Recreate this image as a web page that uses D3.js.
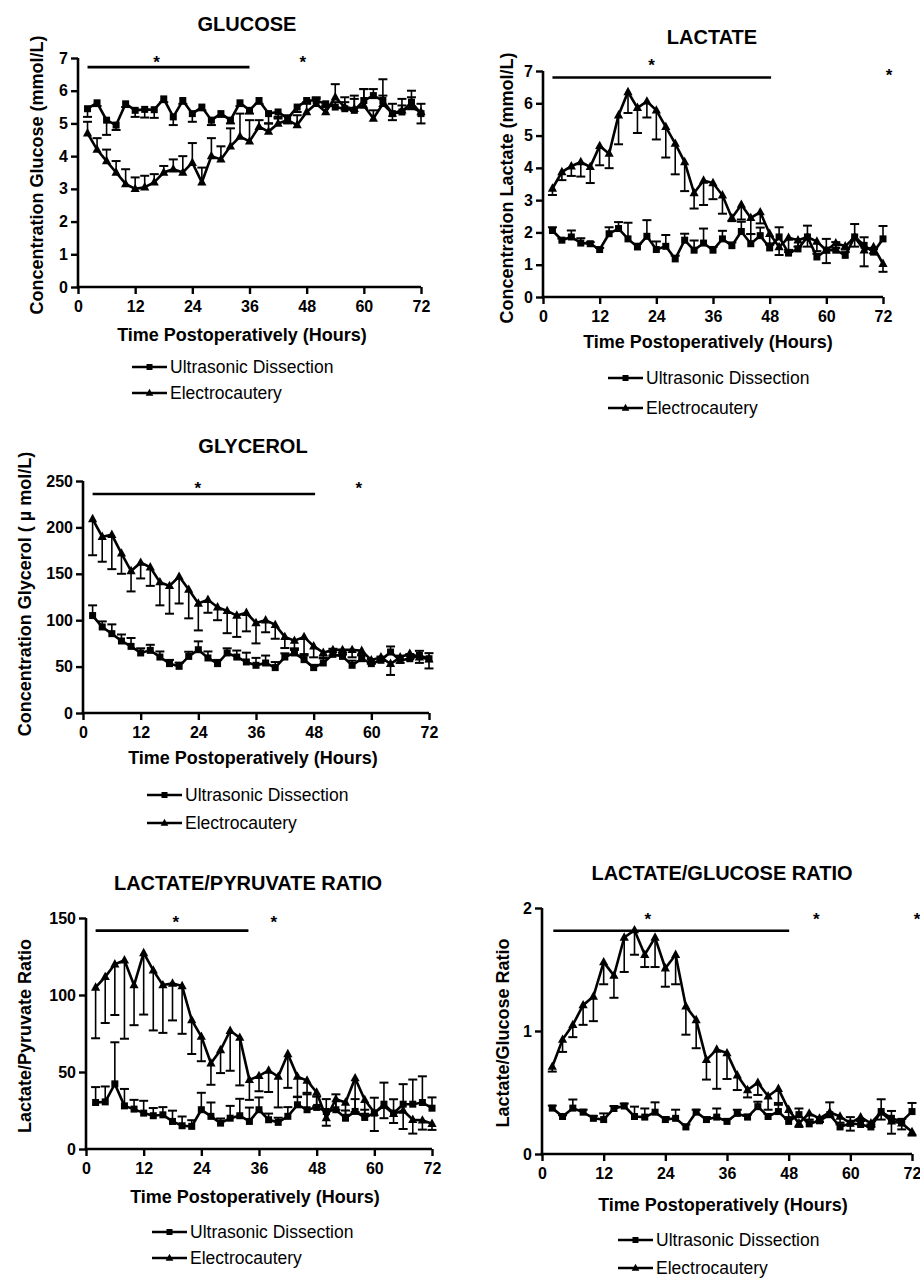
<!DOCTYPE html>
<html>
<head>
<meta charset="utf-8">
<script src="https://cdn.jsdelivr.net/npm/d3@7"></script>
<style>
  body { margin: 0; background: #fff; }
  svg { display: block; font-family: "Liberation Sans", Arial, sans-serif; }
</style>
</head>
<body>
<svg id="chart" width="920" height="1278"></svg>
<script>
// sampling times (hours after surgery)
const hours = [2, 4, 6, 8, 10, 12, 14, 16, 18, 20, 22, 24, 26, 28, 30, 32, 34, 36,
  38, 40, 42, 44, 46, 48, 50, 52, 54, 56, 58, 60, 62, 64, 66, 68, 70, 72]
const hourTicks = [0, 12, 24, 36, 48, 60, 72]
const seriesNames = ['Ultrasonic Dissection', 'Electrocautery']

// error values are signed: + means the bar is drawn upward, - downward
const glucoseUS = [5.45, 5.63, 5.1, 4.95, 5.6, 5.4, 5.43, 5.42, 5.75, 5.2, 5.7, 5.3, 5.5, 5.1, 5.3, 5.1, 5.63, 5.4,
  5.7, 5.3, 5.35, 5.15, 5.5, 5.7, 5.7, 5.6, 5.5, 5.45, 5.4, 5.7, 5.85, 5.7, 5.3, 5.35, 5.65, 5.3]
const glucoseUSErr = [-0.25, -0.1, -0.45, -0.15, -0.1, -0.2, -0.25, -0.25, -0.1, -0.25, -0.1, -0.25, -0.1, -0.15, -0.1, -0.1, -0.1, -0.1,
  -0.1, -0.3, -0.2, -0.15, -0.15, -0.1, 0.1, -0.1, 0.15, 0.2, 0.35, 0.35, 0.2, 0.15, -0.2, 0.2, 0.35, 0.3]
const glucoseEC = [4.7, 4.2, 3.85, 3.5, 3.15, 3.0, 3.05, 3.2, 3.5, 3.6, 3.5, 3.8, 3.2, 4.0, 3.9, 4.3, 4.6, 4.45,
  4.9, 4.75, 5.0, 5.1, 4.95, 5.35, 5.6, 5.35, 5.8, 5.5, 5.45, 5.55, 5.15, 5.6, 5.3, 5.4, 5.5, 5.35]
const glucoseECErr = [0.35, 0.35, 0.35, 0.35, 0.45, 0.35, 0.35, 0.25, 0.2, 0.3, 0.5, 0.6, 0.45, 0.55, 0.4, 0.55, 0.7, 0.65,
  0.2, 0.25, 0.2, 0.15, 0.3, 0.3, 0.15, 0.2, 0.4, 0.3, 0.4, 0.5, 0.25, 0.75, 0.3, 0.35, 0.3, -0.35]
const glucoseTicks = [0, 1, 2, 3, 4, 5, 6, 7]
const glucoseSigBar = [2, 36]
const glucoseStars = [16.5, 47.2]

const lactateUS = [2.06, 1.76, 1.86, 1.67, 1.65, 1.47, 1.96, 2.12, 1.8, 1.55, 1.88, 1.47, 1.57, 1.18, 1.76, 1.45, 1.67, 1.45,
  1.8, 1.59, 2.03, 1.65, 1.9, 1.52, 1.86, 1.36, 1.49, 1.86, 1.24, 1.45, 1.45, 1.29, 1.86, 1.6, 1.39, 1.8]
const lactateUSErr = [0.1, 0.05, 0.2, 0.15, 0.05, 0.05, 0.2, 0.2, 0.5, 0.1, 0.5, 0.25, 0.35, 0.1, 0.2, 0.3, 0.45, 0.1,
  0.25, 0.1, 0.3, 0.3, 0.25, 0.1, 0.3, 0.1, 0.3, 0.35, 0.1, 0.35, 0.25, 0.1, 0.4, 0.25, 0.1, 0.4]
const lactateEC = [3.36, 3.87, 4.05, 4.18, 4.03, 4.68, 4.44, 5.63, 6.35, 5.86, 6.06, 5.78, 5.27, 4.75, 4.18, 3.22, 3.61, 3.53,
  3.15, 2.45, 2.86, 2.45, 2.63, 1.96, 1.55, 1.84, 1.76, 1.86, 1.72, 1.45, 1.67, 1.57, 1.86, 1.45, 1.55, 1.03]
const lactateECErr = [-0.2, -0.25, -0.3, -0.45, -0.5, -0.6, -0.45, -0.9, -0.65, -0.78, -0.5, -0.9, -0.95, -0.95, -0.9, -0.48, -0.76, -0.5,
  -0.57, -0.1, -0.46, -0.5, -0.35, -0.3, -0.25, -0.45, -0.2, -0.3, -0.3, -0.4, -0.15, -0.1, -0.3, -0.5, -0.2, -0.25]
const lactateTicks = [0, 1, 2, 3, 4, 5, 6, 7]
const lactateSigBar = [2, 48.3]
const lactateStars = [23, 73.3]

const glycerolUS = [105, 92.7, 85.5, 77.6, 71.8, 64.7, 67.5, 60.3, 53.2, 50.3, 61, 68.2, 59.3, 53.2, 64.7, 60.3, 55, 51.4,
  53.9, 48.9, 60.3, 64.7, 57.5, 48.9, 53.9, 63.2, 61, 51.4, 58.5, 53.2, 56.8, 65.7, 56.8, 58.5, 62, 58.5]
const glycerolUSErr = [11, 6, 10, 7, 9, 5, 6, 6, 4, 4, 5, 9, 7, 4, 5, 7, 10, 8,
  8, 6, 4, 5, 6, 3, 5, 6, 4, 5, 4, 5, 4, 6, 5, 5, 5, 6]
const glycerolEC = [209, 190, 192, 172, 153, 162, 157, 141, 137, 147, 133, 118, 122, 114, 110, 105, 108, 97,
  100, 95, 82, 78, 82, 72, 65, 68, 68, 68, 67, 57, 60, 53, 60, 64, 60, 58]
const glycerolECErr = [-39, -27, -37, -22, -22, -17, -20, -25, -30, -29, -31, -29, -14, -14, -24, -23, -20, -22,
  -13, -15, -12, -10, -20, -12, -5, -6, -5, -8, -5, -4, -4, -12, -6, -6, -6, -10]
const glycerolTicks = [0, 50, 100, 150, 200, 250]
const glycerolSigBar = [2, 48.3]
const glycerolStars = [23.9, 57.4]

const lpUS = [30.2, 30.6, 42.3, 28, 25.9, 23.3, 21.6, 22.2, 17.9, 15.1, 14.7, 25.5, 21.2, 16.8, 20, 21.6, 17.9, 25.5,
  19, 17.3, 21.2, 28.7, 25.5, 27, 24.4, 25.5, 20, 24.4, 20.5, 23.3, 29.1, 23.3, 29.1, 29.1, 30.2, 26.5]
const lpUSErr = [10, 10, 27, 11, 6, 8, 5, 5, 7, 6, 4, 11, 9, 3, 8, 11, 9, 8,
  4, 3, 6, 5, 10, 7, 8, 10, 5, 8, 5, 10, 14, 9, 13, 16, 17, 7]
const lpEC = [104.9, 111.8, 120, 122.6, 106.4, 127.3, 116, 106.4, 107.5, 105.8, 83.7, 73, 55.7, 64.3, 76.8, 72.3, 44.9, 47.5,
  51, 47, 61.7, 47, 44.5, 36.7, 20.1, 32.4, 30.2, 46, 31.9, 23.7, 28, 22.9, 25, 19, 18.6, 16.4]
const lpECErr = [-33, -30, -33, -51, -26, -40, -39, -31, -24, -31, -22, -16, -14, -15, -26, -31, -13, -10,
  -14, -20, -22, -13, -8, -9, -5, -7, -8, -22, -9, -12, -8, -6, -12, -9, -6, -4]
const lpTicks = [0, 50, 100, 150]
const lpSigBar = [2, 33.8]
const lpStars = [18.7, 39.1]

const lgUS = [0.373, 0.305, 0.373, 0.34, 0.29, 0.28, 0.37, 0.39, 0.305, 0.3, 0.34, 0.28, 0.29, 0.22, 0.34, 0.28, 0.3, 0.265,
  0.33, 0.3, 0.385, 0.305, 0.345, 0.265, 0.32, 0.245, 0.27, 0.32, 0.22, 0.25, 0.24, 0.22, 0.345, 0.29, 0.265, 0.345]
const lgUSErr = [0.02, 0.01, 0.07, 0.02, 0.02, 0.05, 0.02, 0.02, 0.08, 0.07, 0.08, 0.02, 0.07, 0.02, 0.02, 0.02, 0.07, 0.02,
  0.03, 0.02, 0.04, 0.02, 0.07, 0.02, 0.05, 0.02, 0.03, 0.1, 0.02, 0.05, 0.03, 0.02, 0.1, 0.06, 0.02, 0.07]
const lgEC = [0.71, 0.93, 1.05, 1.21, 1.28, 1.56, 1.45, 1.76, 1.82, 1.62, 1.76, 1.51, 1.62, 1.2, 1.09, 0.765, 0.85, 0.82,
  0.64, 0.52, 0.58, 0.47, 0.53, 0.36, 0.25, 0.33, 0.29, 0.34, 0.305, 0.25, 0.3, 0.25, 0.34, 0.265, 0.25, 0.18]
const lgECErr = [-0.04, -0.1, -0.1, -0.16, -0.2, -0.18, -0.18, -0.28, -0.2, -0.1, -0.24, -0.15, -0.24, -0.23, -0.23, -0.16, -0.32, -0.21,
  -0.12, -0.06, -0.1, -0.11, -0.13, -0.06, -0.03, -0.05, -0.03, -0.04, -0.05, -0.06, -0.03, -0.03, -0.06, -0.1, -0.05, -0.03]
const lgTicks = [0, 1, 2]
const lgSigBar = [2.2, 48.1]
const lgStars = [20.6, 53.4, 73]

// panel layout (pixel boxes) + references to the data above
const panels = [
  { title: 'GLUCOSE', yLabel: 'Concentration Glucose (mmol/L)', us: glucoseUS, usErr: glucoseUSErr, ec: glucoseEC, ecErr: glucoseECErr,
    ticks: glucoseTicks, sigBar: glucoseSigBar, stars: glucoseStars, barLevel: 6.72, starLevel: 7.0,
    left: 78, right: 421, top: 58, bottom: 287, titleX: 247, titleY: 31, yLabelX: 37, yLabelY: 175, xLabelX: 242, xLabelY: 341,
    legX: 132, legY: [367, 393] },
  { title: 'LACTATE', yLabel: 'Concentration Lactate (mmol/L)', us: lactateUS, usErr: lactateUSErr, ec: lactateEC, ecErr: lactateECErr,
    ticks: lactateTicks, sigBar: lactateSigBar, stars: lactateStars, barLevel: 6.8, starLevel: [7.3, 7.0],
    left: 543, right: 883, top: 71, bottom: 297, titleX: 712, titleY: 44, yLabelX: 507, yLabelY: 188, xLabelX: 708, xLabelY: 348,
    legX: 608, legY: [378, 408] },
  { title: 'GLYCEROL', yLabel: 'Concentration Glycerol ( \u00b5 mol/L)', us: glycerolUS, usErr: glycerolUSErr, ec: glycerolEC, ecErr: glycerolECErr,
    ticks: glycerolTicks, sigBar: glycerolSigBar, stars: glycerolStars, barLevel: 236, starLevel: 247,
    left: 83, right: 429, top: 481, bottom: 713, titleX: 253, titleY: 453, yLabelX: 25, yLabelY: 594, xLabelX: 253, xLabelY: 764,
    legX: 147, legY: [795, 823] },
  { title: 'LACTATE/PYRUVATE RATIO', yLabel: 'Lactate/Pyruvate Ratio', us: lpUS, usErr: lpUSErr, ec: lpEC, ecErr: lpECErr,
    ticks: lpTicks, sigBar: lpSigBar, stars: lpStars, barLevel: 141.8, starLevel: 150,
    left: 86, right: 432, top: 918, bottom: 1149, titleX: 248, titleY: 890, yLabelX: 25, yLabelY: 1036, xLabelX: 255, xLabelY: 1203,
    legX: 152, legY: [1232, 1258] },
  { title: 'LACTATE/GLUCOSE RATIO', yLabel: 'Lactate/Glucose Ratio', us: lgUS, usErr: lgUSErr, ec: lgEC, ecErr: lgECErr,
    ticks: lgTicks, sigBar: lgSigBar, stars: lgStars, barLevel: 1.815, starLevel: 1.94,
    left: 542, right: 912, top: 908, bottom: 1154, titleX: 722, titleY: 880, yLabelX: 503, yLabelY: 1033, xLabelX: 723, xLabelY: 1211,
    legX: 618, legY: [1240, 1268] }
]

const svg = d3.select('#chart')
const trianglePath = 'M0,-5.2L4.6,3.2L-4.6,3.2Z'

function drawMarker (sel, kind, s) {
  if (kind === 'square') {
    sel.append('rect').attr('x', -s / 2).attr('y', -s / 2).attr('width', s).attr('height', s).attr('fill', '#000')
  } else {
    sel.append('path').attr('d', trianglePath).attr('transform', `scale(${s / 9})`).attr('fill', '#000')
  }
}

function drawPanel (p) {
  const x = d3.scaleLinear().domain([0, 72]).range([p.left, p.right])
  const y = d3.scaleLinear().domain([0, d3.max(p.ticks)]).range([p.bottom, p.top])
  const g = svg.append('g')

  // axes
  const xAxis = g.append('g')
    .attr('transform', `translate(0,${p.bottom})`)
    .call(d3.axisBottom(x).tickValues(hourTicks).tickFormat(d3.format('d')).tickSize(7).tickPadding(7).tickSizeOuter(0))
  const yAxis = g.append('g')
    .attr('transform', `translate(${p.left},0)`)
    .call(d3.axisLeft(y).tickValues(p.ticks).tickFormat(d3.format('d')).tickSize(7).tickPadding(3).tickSizeOuter(0))
  for (const ax of [xAxis, yAxis]) {
    ax.select('.domain').attr('stroke', '#000').attr('stroke-width', 2.6)
    ax.selectAll('.tick line').attr('stroke', '#000').attr('stroke-width', 2.4)
    ax.selectAll('.tick text').attr('fill', '#000').style('font-size', '16px').style('font-weight', 'bold')
  }
  yAxis.select('.domain').attr('d', `M0,${p.bottom + 1.3}V${p.top}`)
  xAxis.select('.domain').attr('d', `M${p.left - 1.3},0H${p.right}`)

  // titles / labels
  g.append('text').attr('x', p.titleX).attr('y', p.titleY)
    .attr('text-anchor', 'middle').style('font-size', '20px').style('font-weight', 'bold')
    .text(p.title)
  g.append('text').attr('transform', `translate(${p.yLabelX},${p.yLabelY}) rotate(-90)`)
    .attr('text-anchor', 'middle').attr('dy', '0.35em').style('font-size', '18px').style('font-weight', 'bold')
    .text(p.yLabel)
  g.append('text').attr('x', p.xLabelX).attr('y', p.xLabelY)
    .attr('text-anchor', 'middle').style('font-size', '18px').style('font-weight', 'bold')
    .text('Time Postoperatively (Hours)')

  // significance bar and stars
  g.append('line')
    .attr('x1', x(p.sigBar[0])).attr('x2', x(p.sigBar[1]))
    .attr('y1', y(p.barLevel)).attr('y2', y(p.barLevel))
    .attr('stroke', '#000').attr('stroke-width', 2.6)
  p.stars.forEach(function (h, i) {
    const lvl = Array.isArray(p.starLevel) ? p.starLevel[i] : p.starLevel
    g.append('text').attr('x', x(h)).attr('y', y(lvl) + 10)
      .attr('text-anchor', 'middle').style('font-size', '17px').style('font-weight', 'bold')
      .text('*')
  })

  const series = [
    { vals: p.us, err: p.usErr, kind: 'square', size: 7 },
    { vals: p.ec, err: p.ecErr, kind: 'triangle', size: 9 }
  ]

  // error bars
  series.forEach(function (s) {
    const eb = g.append('g').attr('stroke', '#000')
    hours.forEach(function (h, i) {
      const y0 = y(s.vals[i])
      const y1 = y(s.vals[i] + s.err[i])
      eb.append('line').attr('x1', x(h)).attr('x2', x(h)).attr('y1', y0).attr('y2', y1).attr('stroke-width', 1.6)
      eb.append('line').attr('x1', x(h) - 4.5).attr('x2', x(h) + 4.5).attr('y1', y1).attr('y2', y1).attr('stroke-width', 2)
    })
  })

  // lines
  const line = d3.line().x(function (d, i) { return x(hours[i]) }).y(function (d) { return y(d) })
  series.forEach(function (s) {
    g.append('path').datum(s.vals).attr('d', line)
      .attr('fill', 'none').attr('stroke', '#000').attr('stroke-width', 2.6).attr('stroke-linejoin', 'miter')
  })

  // markers
  series.forEach(function (s) {
    s.vals.forEach(function (v, i) {
      const m = g.append('g').attr('transform', `translate(${x(hours[i])},${y(v)})`)
      drawMarker(m, s.kind, s.size)
    })
  })

  // legend
  const legend = g.selectAll('.legend')
    .data([{ name: seriesNames[0], kind: 'square', size: 6 }, { name: seriesNames[1], kind: 'triangle', size: 7.5 }])
    .enter()
    .append('g')
    .attr('class', 'legend')
    .attr('transform', function (d, i) { return `translate(${p.legX},${p.legY[i]})` })
  legend.append('line').attr('x1', 0).attr('x2', 35).attr('y1', 0).attr('y2', 0)
    .attr('stroke', '#000').attr('stroke-width', 2.6)
  legend.each(function (d) {
    const m = d3.select(this).append('g').attr('transform', 'translate(17.5,0)')
    drawMarker(m, d.kind, d.size)
  })
  legend.append('text').attr('x', 38).attr('y', 0).attr('dy', '0.35em')
    .style('font-size', '17.5px')
    .text(function (d) { return d.name })
}

panels.forEach(drawPanel)
</script>
</body>
</html>
